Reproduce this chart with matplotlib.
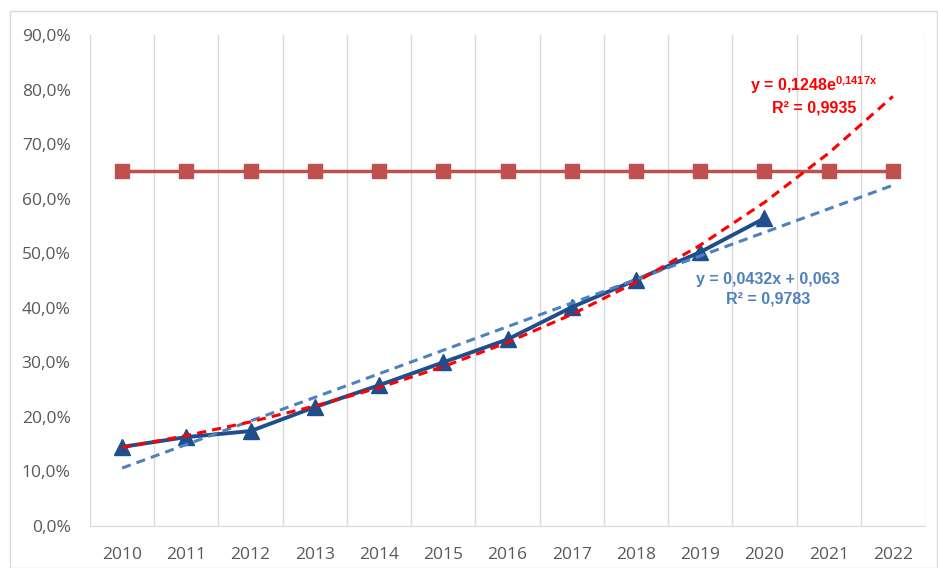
import numpy as np
import matplotlib
matplotlib.use("Agg")
import matplotlib.pyplot as plt
from matplotlib.patches import Rectangle

years = ["2010", "2011", "2012", "2013", "2014", "2015", "2016",
         "2017", "2018", "2019", "2020", "2021", "2022"]
actual = [0.145, 0.163, 0.174, 0.218, 0.258, 0.300, 0.342, 0.401, 0.451, 0.502, 0.564]
target = [0.65] * 13

# trendline coefficients as shown on the chart
lin_a, lin_b = 0.0432, 0.063
exp_a, exp_b = 0.1248, 0.1417

plt.rcParams["mathtext.fontset"] = "custom"
plt.rcParams["mathtext.rm"] = "Liberation Sans"
plt.rcParams["mathtext.bf"] = "Liberation Sans:bold"

fig = plt.figure(figsize=(9.38, 5.68), dpi=100)
fig.patches.append(Rectangle((10 / 938, 0), 927 / 938, 557 / 568, transform=fig.transFigure,
                             fill=False, edgecolor="#d9d9d9", linewidth=1))
ax = fig.add_axes([90 / 938, 42 / 568, 835 / 938, 491 / 568])

x_all = np.arange(len(years))
x_act = np.arange(len(actual))
n = np.arange(1, len(years) + 1)

ax.plot(x_all, target, color="#c0504d", linewidth=2.5, marker="s", markersize=10, zorder=3)
ax.plot(x_act, actual, color="#1f4e8c", linewidth=2.8, marker="^", markersize=11, zorder=4)
ax.plot(x_all, lin_a * n + lin_b, color="#4f81bd", linewidth=2.2, linestyle=(0, (3, 2)), zorder=5)
ax.plot(x_all, exp_a * np.exp(exp_b * n), color="#ff0000", linewidth=2.2, linestyle=(0, (3, 2)), zorder=6)

ax.set_xlim(-0.5, len(years) - 0.5)
ax.set_ylim(0, 0.9)
ax.set_xticks(x_all)
ax.set_xticklabels(years)
ax.set_xticks(np.arange(-0.5, len(years)), minor=True)
ax.set_yticks(np.arange(0, 0.91, 0.1))
ax.set_yticklabels([f"{v:.1f}%".replace(".", ",") for v in np.arange(0, 91, 10)])
ax.grid(True, axis="x", which="minor", color="#d9d9d9", linewidth=1)
ax.tick_params(axis="both", which="both", length=0)
ax.tick_params(axis="x", pad=15, labelsize=12.5, labelcolor="#595959")
ax.tick_params(axis="y", pad=14, labelsize=12.5, labelcolor="#595959")
for lbl in ax.get_xticklabels():
    lbl.set_fontfamily("Open Sans")
for lbl in ax.get_yticklabels():
    lbl.set_fontfamily("Open Sans")
for s in ["top", "right", "left"]:
    ax.spines[s].set_visible(False)
ax.spines["bottom"].set_color("#d9d9d9")

txt = dict(fontsize=11.5, fontweight="bold", ha="center", va="center", family="Liberation Sans")
ax.text(10.77, 0.808, r"y = 0,1248e$^{\mathbf{0{,}1417x}}$", color="#ff0000", **txt)
ax.text(10.77, 0.766, "R² = 0,9935", color="#ff0000", **txt)
ax.text(10.06, 0.451, "y = 0,0432x + 0,063", color="#4f81bd", **txt)
ax.text(10.06, 0.416, "R² = 0,9783", color="#4f81bd", **txt)

fig.savefig("out.png", dpi=100)
